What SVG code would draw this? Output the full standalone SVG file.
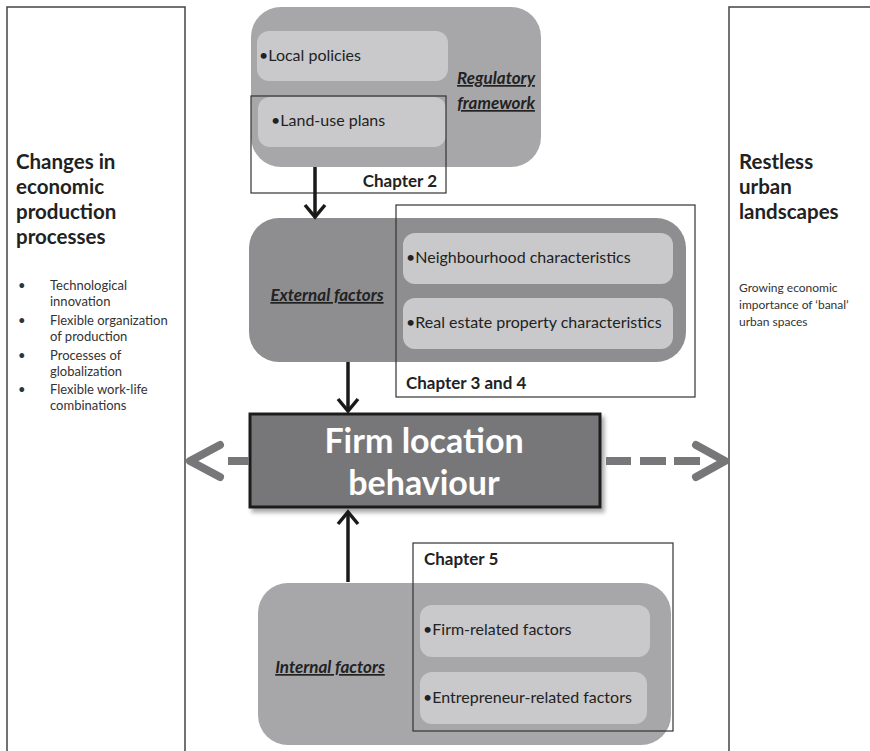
<svg xmlns="http://www.w3.org/2000/svg" width="870" height="751" viewBox="0 0 870 751">
<style>
.side{fill:#fff;stroke:#444;stroke-width:1.5}
.outer-l{fill:#a7a7aa}
.outer-d{fill:#8e8e91}
.inner{fill:#c9c9cb}
.chap{fill:none;stroke:#333;stroke-width:1.2}
.h{font-family:Lato,"Noto Sans",sans-serif;font-weight:bold;font-size:20.5px;fill:#222}
.s{font-family:Lato,"Noto Sans",sans-serif;font-size:13px;fill:#333}
.r{font-family:Lato,"Noto Sans",sans-serif;font-size:12px;fill:#333}
.i{font-family:Lato,"Noto Sans",sans-serif;font-size:16px;fill:#222}
.lab{font-family:Lato,"Noto Sans",sans-serif;font-size:17px;font-weight:bold;font-style:italic;text-decoration:underline;fill:#222}
.ch{font-family:Lato,"Noto Sans",sans-serif;font-size:17px;font-weight:bold;fill:#222}
.arr{stroke:#1a1a1a;stroke-width:3.5;fill:none}
.dash{stroke:#77777a;stroke-width:8;fill:none}
.chev{stroke:#77777a;stroke-width:8;fill:none;stroke-linecap:round;stroke-linejoin:round}
</style>
<defs>
<filter id="sh" x="-10%" y="-10%" width="120%" height="130%">
<feDropShadow dx="3" dy="4" stdDeviation="2" flood-color="#000" flood-opacity="0.35"/>
</filter>
</defs>

<g id="left-panel">
<path class="side" d="M7,760 V7 H185 V760"/>
<text class="h" x="16" y="169">Changes in</text>
<text class="h" x="16" y="194">economic</text>
<text class="h" x="16" y="219">production</text>
<text class="h" x="16" y="244">processes</text>
<g class="s">
<text x="18" y="290">•</text><text x="50" y="290">Technological</text>
<text x="50" y="306">innovation</text>
<text x="18" y="325">•</text><text x="50" y="325">Flexible organization</text>
<text x="50" y="341">of production</text>
<text x="18" y="360">•</text><text x="50" y="360">Processes of</text>
<text x="50" y="376">globalization</text>
<text x="18" y="394">•</text><text x="50" y="394">Flexible work-life</text>
<text x="50" y="410">combinations</text>
</g>
</g>

<g id="right-panel">
<path class="side" d="M729,760 V7 H880"/>
<text class="h" x="739" y="169">Restless</text>
<text class="h" x="739" y="194">urban</text>
<text class="h" x="739" y="219">landscapes</text>
<text class="r" x="739" y="292">Growing economic</text>
<text class="r" x="739" y="309">importance of ‘banal’</text>
<text class="r" x="739" y="326">urban spaces</text>
</g>

<g id="regulatory-framework">
<rect class="outer-l" x="251" y="7" width="290" height="160" rx="30"/>
<rect class="inner" x="257" y="31" width="191" height="50" rx="12"/>
<text class="i" x="259" y="61">•Local policies</text>
<rect class="inner" x="258" y="97" width="188" height="50" rx="12"/>
<text class="i" x="271" y="126">•Land-use plans</text>
<text class="lab" x="535" y="84" text-anchor="end">Regulatory</text>
<text class="lab" x="535" y="109" text-anchor="end">framework</text>
<rect class="chap" x="251" y="96" width="195" height="97"/>
<text class="ch" x="437" y="187" text-anchor="end">Chapter 2</text>
</g>

<g id="external-factors">
<rect class="outer-d" x="249" y="218" width="437" height="144" rx="30"/>
<rect class="inner" x="403" y="233" width="270" height="51" rx="12"/>
<text class="i" x="406" y="263">•Neighbourhood characteristics</text>
<rect class="inner" x="403" y="298" width="270" height="51" rx="12"/>
<text class="i" x="406" y="328">•Real estate property characteristics</text>
<text class="lab" x="327" y="301" text-anchor="middle">External factors</text>
<rect class="chap" x="396" y="205" width="299" height="192"/>
<text class="ch" x="406" y="389">Chapter 3 and 4</text>
</g>

<g id="firm-location-behaviour">
<rect x="250" y="414" width="350" height="93" fill="#77777a" stroke="#1e1e1e" stroke-width="3" filter="url(#sh)"/>
<text x="424" y="453" text-anchor="middle" font-family="Lato,'Noto Sans',sans-serif" font-weight="bold" font-size="34" fill="#fff">Firm location</text>
<text x="424" y="495" text-anchor="middle" font-family="Lato,'Noto Sans',sans-serif" font-weight="bold" font-size="34" fill="#fff">behaviour</text>
</g>

<g id="internal-factors">
<rect class="outer-l" x="258" y="583" width="413" height="162" rx="30"/>
<rect class="inner" x="420" y="605" width="230" height="52" rx="12"/>
<text class="i" x="423" y="635">•Firm-related factors</text>
<rect class="inner" x="420" y="672" width="227" height="52" rx="12"/>
<text class="i" x="423" y="703">•Entrepreneur-related factors</text>
<text class="lab" x="330" y="673" text-anchor="middle">Internal factors</text>
<rect class="chap" x="413" y="543" width="260" height="188"/>
<text class="ch" x="424" y="565">Chapter 5</text>
</g>

<g id="connectors">
<line class="arr" x1="315" y1="167" x2="315" y2="216"/>
<polyline class="arr" points="305,205 315,217 325,205"/>
<line class="arr" x1="348" y1="362" x2="348" y2="410"/>
<polyline class="arr" points="338,399 348,411 358,399"/>
<line class="arr" x1="348" y1="582" x2="348" y2="514"/>
<polyline class="arr" points="338,524 348,512 358,524"/>
<line class="dash" x1="228" y1="461" x2="249" y2="461"/>
<polyline class="chev" points="220,445 190,461 220,477"/>
<line class="dash" x1="606" y1="461" x2="631" y2="461"/>
<line class="dash" x1="640" y1="461" x2="666" y2="461"/>
<line class="dash" x1="674" y1="461" x2="700" y2="461"/>
<polyline class="chev" points="696,445 725,461 696,477"/>
</g>
</svg>
